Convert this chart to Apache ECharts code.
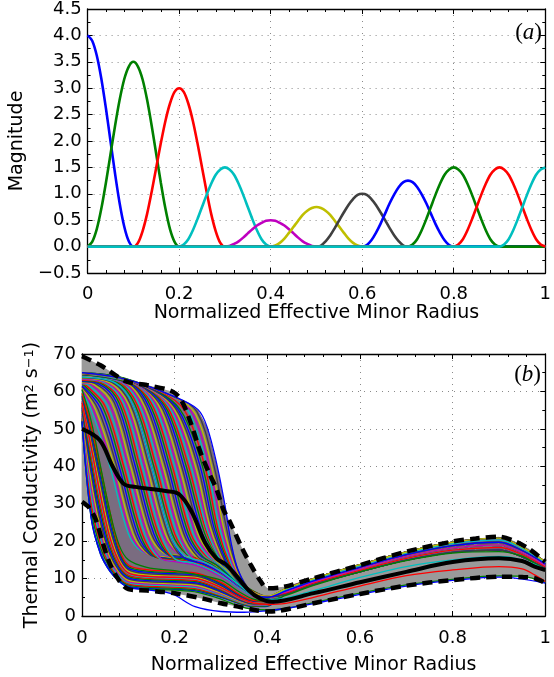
<!DOCTYPE html>
<html><head><meta charset="utf-8">
<script src="https://cdn.jsdelivr.net/npm/echarts/dist/echarts.min.js"></script>
<style>html,body{margin:0;padding:0;background:#fff}#c{width:554px;height:677px}</style>
</head><body><div id="c"></div>
<script>
// ===== Panel (a): basis bumps =====
const centers = [0, 0.1, 0.2, 0.3, 0.4, 0.5, 0.6, 0.7, 0.8, 0.9, 1.0];
const offsets = [-0.1, -0.09, -0.08, -0.07, -0.06, -0.05, -0.04, -0.03, -0.02, -0.01, 0, 0.01, 0.02, 0.03, 0.04, 0.05, 0.06, 0.07, 0.08, 0.09, 0.1];
const bump0  = [0, 0.10, 0.38, 0.82, 1.38, 2.00, 2.62, 3.18, 3.62, 3.90, 4.00, 3.90, 3.62, 3.18, 2.62, 2.00, 1.38, 0.82, 0.38, 0.10, 0];
const bump1  = [0, 0.09, 0.33, 0.72, 1.21, 1.75, 2.29, 2.78, 3.17, 3.41, 3.50, 3.41, 3.17, 2.78, 2.29, 1.75, 1.21, 0.72, 0.33, 0.09, 0];
const bump2  = [0, 0.07, 0.29, 0.62, 1.04, 1.50, 1.96, 2.38, 2.71, 2.93, 3.00, 2.93, 2.71, 2.38, 1.96, 1.50, 1.04, 0.62, 0.29, 0.07, 0];
const bump3  = [0, 0.04, 0.14, 0.31, 0.52, 0.75, 0.98, 1.19, 1.36, 1.46, 1.50, 1.46, 1.36, 1.19, 0.98, 0.75, 0.52, 0.31, 0.14, 0.04, 0];
const bump4  = [0, 0.01, 0.05, 0.10, 0.17, 0.25, 0.33, 0.40, 0.45, 0.49, 0.50, 0.49, 0.45, 0.40, 0.33, 0.25, 0.17, 0.10, 0.05, 0.01, 0];
const bump5  = [0, 0.02, 0.07, 0.15, 0.26, 0.375, 0.49, 0.60, 0.68, 0.73, 0.75, 0.73, 0.68, 0.60, 0.49, 0.375, 0.26, 0.15, 0.07, 0.02, 0];
const bump6  = [0, 0.02, 0.10, 0.21, 0.35, 0.50, 0.65, 0.79, 0.90, 0.98, 1.00, 0.98, 0.90, 0.79, 0.65, 0.50, 0.35, 0.21, 0.10, 0.02, 0];
const bump7  = [0, 0.03, 0.12, 0.26, 0.43, 0.625, 0.82, 0.99, 1.13, 1.22, 1.25, 1.22, 1.13, 0.99, 0.82, 0.625, 0.43, 0.26, 0.12, 0.03, 0];
const bump8  = [0, 0.04, 0.14, 0.31, 0.52, 0.75, 0.98, 1.19, 1.36, 1.46, 1.50, 1.46, 1.36, 1.19, 0.98, 0.75, 0.52, 0.31, 0.14, 0.04, 0];
const bump9  = [0, 0.04, 0.14, 0.31, 0.52, 0.75, 0.98, 1.19, 1.36, 1.46, 1.50, 1.46, 1.36, 1.19, 0.98, 0.75, 0.52, 0.31, 0.14, 0.04, 0];
const bump10 = [0, 0.04, 0.14, 0.31, 0.52, 0.75, 0.98, 1.19, 1.36, 1.46, 1.50, 1.46, 1.36, 1.19, 0.98, 0.75, 0.52, 0.31, 0.14, 0.04, 0];
const bumps = [bump0, bump1, bump2, bump3, bump4, bump5, bump6, bump7, bump8, bump9, bump10];
const palette = ['#0000ff', '#008000', '#ff0000', '#00bfbf', '#bf00bf', '#bfbf00', '#404040'];

// ===== Panel (b): thermal conductivity ensemble =====
const upperBound = [[0,69.4],[0.04,67],[0.095,62.7],[0.14,61.7],[0.195,60],[0.215,57.5],[0.235,51.5],[0.255,44],[0.275,38],[0.29,34],[0.305,28.5],[0.32,25],[0.344,18.5],[0.365,13.5],[0.386,9.2],[0.4,7.4],[0.436,7.8],[0.5,10.1],[0.6,13.6],[0.7,17.2],[0.8,19.9],[0.85,20.7],[0.9,21.2],[0.93,20.2],[0.963,18.1],[1,14.5]];
const lowerBound = [[0,30.5],[0.015,29],[0.03,25.7],[0.045,19.5],[0.06,14],[0.08,9.5],[0.1,7.2],[0.14,6.8],[0.166,6.5],[0.2,6.1],[0.266,4.5],[0.3,3.4],[0.337,2.5],[0.372,1.6],[0.4,1.2],[0.42,1.3],[0.5,3.4],[0.6,5.9],[0.7,8.1],[0.8,9.6],[0.9,10.5],[0.95,10.4],[0.977,10.1],[1,8.8]];
const meanCurve = [[0,50],[0.038,47],[0.066,40],[0.09,35.3],[0.115,34.5],[0.18,33.4],[0.209,32.6],[0.237,27.8],[0.266,19.5],[0.29,15.4],[0.31,13.8],[0.333,10.8],[0.36,6.8],[0.385,4.6],[0.41,3.8],[0.5,6.1],[0.6,9.0],[0.7,11.8],[0.8,14.4],[0.9,15.4],[0.95,14.7],[0.977,13.2],[1,12.3]];
const bandTop = [[0,65],[0.05,64.5],[0.1,63],[0.15,61],[0.2,58.6],[0.25,55.2],[0.27,50.5],[0.292,40],[0.308,30],[0.322,19.5],[0.337,12.3],[0.365,6.2],[0.4,5.2],[0.44,7.3],[0.5,10.0],[0.6,13.7],[0.7,17.1],[0.8,19.7],[0.9,20.8],[0.95,18.4],[1,14.5]];
const bandBottom = [[0,52],[0.02,26.5],[0.04,17],[0.06,12.3],[0.08,9.5],[0.1,8.0],[0.14,7.4],[0.2,7.1],[0.25,6.6],[0.3,5.0],[0.34,3.3],[0.37,2.5],[0.4,2.6],[0.44,5.8],[0.5,8.4],[0.6,11.8],[0.7,14.9],[0.8,17.0],[0.9,17.6],[0.95,15.8],[1,12.7]];

const LX = [0, 0.02, 0.04, 0.06, 0.08, 0.1, 0.14, 0.2, 0.25, 0.3, 0.34, 0.37, 0.4];
const lowerCurves = [
  [52, 26.5, 17, 12.3, 9.5, 8.0, 7.4, 7.1, 6.6, 5.0, 3.3, 2.5, 2.6],
  [52.5, 28, 18.2, 12.9, 9.9, 8.3, 7.7, 7.4, 6.9, 5.2, 3.4, 2.6, 2.7],
  [53, 30, 19.5, 13.5, 10.3, 8.6, 8.0, 7.7, 7.2, 5.4, 3.6, 2.8, 2.9],
  [53.5, 32, 20.7, 14.2, 10.7, 8.9, 8.3, 8.0, 7.5, 5.6, 3.7, 2.9, 3.0],
  [54, 34, 22, 15.0, 11.2, 9.2, 8.6, 8.3, 7.8, 5.9, 3.9, 3.0, 3.1],
  [54.5, 36, 23.5, 15.8, 11.6, 9.5, 8.9, 8.6, 8.1, 6.1, 4.0, 3.1, 3.2],
  [55, 38, 25, 16.6, 12.1, 9.9, 9.2, 8.9, 8.5, 6.4, 4.2, 3.2, 3.3],
  [55.5, 39.5, 26.5, 17.5, 12.6, 10.2, 9.5, 9.2, 8.8, 6.6, 4.3, 3.3, 3.4],
  [56, 41, 28, 18.5, 13.1, 10.6, 9.8, 9.5, 9.1, 6.9, 4.5, 3.4, 3.5],
  [56.5, 42.5, 29.5, 19.5, 13.6, 10.9, 10.1, 9.8, 9.4, 7.1, 4.6, 3.5, 3.5],
  [57, 44, 31, 20.5, 14.2, 11.3, 10.4, 10.1, 9.7, 7.4, 4.8, 3.6, 3.6],
  [57.5, 45.2, 32.5, 21.5, 14.7, 11.6, 10.7, 10.4, 10.0, 7.6, 4.9, 3.7, 3.7],
  [58, 46.5, 34, 22.5, 15.3, 12.0, 11.0, 10.7, 10.3, 7.9, 5.1, 3.8, 3.8],
  [58.4, 47.5, 35.5, 23.7, 15.9, 12.4, 11.3, 11.0, 10.6, 8.1, 5.2, 3.9, 3.8],
  [58.8, 48.5, 37, 25, 16.6, 12.8, 11.7, 11.3, 10.9, 8.4, 5.4, 4.0, 3.9],
  [59.2, 49.5, 38.2, 26.5, 17.3, 13.2, 12.0, 11.6, 11.1, 8.7, 5.6, 4.1, 4.0],
  [59.6, 50.5, 39.5, 28, 18, 13.6, 12.4, 11.9, 11.4, 9.0, 5.8, 4.2, 4.0]
];

const middleCurves = [
  [[0,60],[0.02,55],[0.06,40],[0.1,22],[0.13,17.2],[0.18,16.0],[0.22,15.2],[0.26,13.8],[0.3,11.4],[0.34,8.0],[0.37,5.7],[0.4,4.8]],
  [[0,60.5],[0.025,55],[0.065,40],[0.105,22],[0.135,17.0],[0.18,15.9],[0.22,15.1],[0.26,13.7],[0.3,11.3],[0.34,7.9],[0.37,5.6],[0.4,4.7]],
  [[0,61],[0.03,55],[0.07,40],[0.11,22],[0.14,16.8],[0.18,15.7],[0.22,15.0],[0.26,13.6],[0.3,11.2],[0.34,7.9],[0.37,5.6],[0.4,4.7]],
  [[0,61.2],[0.035,55.2],[0.075,40],[0.115,22],[0.145,16.5],[0.18,15.5],[0.22,14.8],[0.26,13.4],[0.3,11.1],[0.34,7.8],[0.37,5.5],[0.4,4.6]],
  [[0,61.5],[0.04,55.5],[0.08,40],[0.12,22],[0.15,16.3],[0.18,15.4],[0.22,14.6],[0.26,13.3],[0.3,11.0],[0.34,7.7],[0.37,5.5],[0.4,4.6]],
  [[0,61.8],[0.005,61.6],[0.045,55.8],[0.085,40],[0.125,22],[0.155,16.0],[0.2,15.0],[0.24,14.0],[0.28,12.1],[0.32,9.4],[0.35,6.7],[0.38,5.0],[0.4,4.6]],
  [[0,62],[0.01,61.5],[0.05,56],[0.09,40],[0.13,22],[0.16,15.8],[0.2,14.8],[0.24,13.9],[0.28,12.0],[0.32,9.3],[0.35,6.6],[0.38,5.0],[0.4,4.6]],
  [[0,62.1],[0.015,61.6],[0.055,56.2],[0.095,40],[0.135,22],[0.165,15.6],[0.2,14.6],[0.24,13.8],[0.28,11.9],[0.32,9.2],[0.35,6.5],[0.38,4.9],[0.4,4.5]],
  [[0,62.3],[0.02,61.8],[0.06,56.5],[0.1,40],[0.14,22],[0.17,15.4],[0.2,14.5],[0.24,13.7],[0.28,11.8],[0.32,9.1],[0.35,6.5],[0.38,4.9],[0.4,4.5]],
  [[0,62.4],[0.025,61.9],[0.065,56.8],[0.105,40],[0.145,22],[0.175,17.0],[0.22,16.0],[0.26,14.6],[0.3,12.1],[0.34,8.3],[0.37,5.9],[0.4,4.8]],
  [[0,62.6],[0.03,62],[0.07,57],[0.11,40],[0.15,22],[0.18,16.8],[0.22,15.8],[0.26,14.4],[0.3,12.0],[0.34,8.2],[0.37,5.8],[0.4,4.8]],
  [[0,62.7],[0.035,62.1],[0.075,57],[0.115,40],[0.155,22],[0.185,16.4],[0.22,15.5],[0.26,14.1],[0.3,11.8],[0.34,8.0],[0.37,5.7],[0.4,4.7]],
  [[0,62.9],[0.04,62.2],[0.08,57],[0.12,40],[0.16,22],[0.19,16.0],[0.22,15.2],[0.26,13.9],[0.3,11.6],[0.34,7.9],[0.37,5.6],[0.4,4.7]],
  [[0,63.0],[0.045,62.2],[0.085,56.9],[0.125,40],[0.165,22],[0.195,15.6],[0.24,14.4],[0.28,12.4],[0.32,9.4],[0.35,6.7],[0.38,5.1],[0.4,4.6]],
  [[0,63.2],[0.05,62.2],[0.09,56.8],[0.13,40],[0.17,22],[0.2,15.3],[0.24,14.2],[0.28,12.2],[0.32,9.3],[0.35,6.6],[0.38,5.0],[0.4,4.6]],
  [[0,63.3],[0.055,62.3],[0.095,56.7],[0.135,40],[0.175,22],[0.205,16.9],[0.24,15.7],[0.28,13.2],[0.32,9.9],[0.35,7.0],[0.38,5.3],[0.4,4.7]],
  [[0,63.5],[0.06,62.3],[0.1,56.6],[0.14,40],[0.18,22],[0.21,16.6],[0.24,15.4],[0.28,13.0],[0.32,9.8],[0.35,6.9],[0.38,5.2],[0.4,4.7]],
  [[0,63.6],[0.065,62.4],[0.105,56.5],[0.145,40],[0.185,22],[0.215,15.9],[0.26,14.2],[0.3,11.7],[0.34,7.9],[0.37,5.7],[0.4,4.7]],
  [[0,63.8],[0.07,62.4],[0.11,56.4],[0.15,40],[0.19,22],[0.22,15.6],[0.26,14.0],[0.3,11.5],[0.34,7.8],[0.37,5.6],[0.4,4.7]],
  [[0,63.9],[0.075,62.5],[0.115,56.3],[0.155,40],[0.195,22],[0.225,16.6],[0.26,15.0],[0.3,12.4],[0.34,8.3],[0.37,5.9],[0.4,4.8]],
  [[0,64],[0.08,62.5],[0.12,56.2],[0.16,40],[0.2,22],[0.23,16.4],[0.26,14.8],[0.3,12.2],[0.34,8.2],[0.37,5.8],[0.4,4.8]],
  [[0,64.1],[0.085,62.4],[0.125,56.1],[0.165,40],[0.205,22],[0.235,15.6],[0.27,14.2],[0.3,12.0],[0.34,8.1],[0.37,5.8],[0.4,4.7]],
  [[0,64.2],[0.09,62.3],[0.13,56],[0.17,40],[0.21,22],[0.24,15.4],[0.27,14.0],[0.3,11.8],[0.34,8.0],[0.37,5.7],[0.4,4.7]],
  [[0,64.3],[0.095,62.3],[0.135,55.9],[0.175,40],[0.215,22],[0.245,16.0],[0.28,14.0],[0.31,11.4],[0.34,8.2],[0.37,5.9],[0.4,4.8]],
  [[0,64.4],[0.1,62.2],[0.14,55.8],[0.18,40],[0.22,22],[0.25,15.8],[0.28,13.8],[0.31,11.2],[0.34,8.1],[0.37,5.8],[0.4,4.8]],
  [[0,64.5],[0.105,62.0],[0.145,55.7],[0.185,40],[0.225,22],[0.255,16.2],[0.29,13.7],[0.32,10.6],[0.35,7.3],[0.38,5.4],[0.4,4.9]],
  [[0,64.5],[0.11,61.9],[0.15,55.6],[0.19,40],[0.23,22],[0.26,16.0],[0.29,13.6],[0.32,10.4],[0.35,7.2],[0.38,5.3],[0.4,4.8]],
  [[0,64.6],[0.06,63.8],[0.115,61.7],[0.155,55.5],[0.195,40],[0.235,22],[0.265,16.4],[0.3,13.5],[0.33,10.0],[0.36,6.8],[0.39,5.2],[0.4,5.0]],
  [[0,64.6],[0.06,63.8],[0.12,61.5],[0.16,55.4],[0.2,40],[0.24,22],[0.27,16.2],[0.3,13.4],[0.33,9.8],[0.36,6.6],[0.39,5.1],[0.4,5.0]],
  [[0,64.7],[0.07,63.8],[0.125,61.3],[0.165,55.3],[0.205,40],[0.245,22],[0.275,16.2],[0.31,12.8],[0.34,9.2],[0.37,6.3],[0.4,5.0]],
  [[0,64.7],[0.07,63.8],[0.13,61.1],[0.17,55.2],[0.21,40],[0.25,22],[0.28,16.0],[0.31,12.6],[0.34,9.0],[0.37,6.2],[0.4,5.0]],
  [[0,64.8],[0.08,63.6],[0.135,60.8],[0.175,55.1],[0.215,40],[0.255,22],[0.285,15.8],[0.32,12.0],[0.35,8.2],[0.38,5.8],[0.4,5.1]],
  [[0,64.8],[0.08,63.6],[0.14,60.6],[0.18,55.0],[0.22,40],[0.26,22],[0.29,15.6],[0.32,11.8],[0.35,8.0],[0.38,5.7],[0.4,5.1]],
  [[0,64.8],[0.08,63.7],[0.145,60.4],[0.185,54.8],[0.225,40],[0.265,22],[0.295,15.3],[0.33,11.0],[0.36,7.4],[0.39,5.5],[0.4,5.2]],
  [[0,64.8],[0.08,63.7],[0.15,60.2],[0.19,54.6],[0.23,40],[0.27,22],[0.3,15.0],[0.33,10.8],[0.36,7.2],[0.39,5.4],[0.4,5.2]],
  [[0,64.9],[0.08,63.8],[0.155,59.9],[0.195,54.4],[0.235,40],[0.27,23],[0.3,14.8],[0.335,9.9],[0.36,7.0],[0.39,5.4],[0.4,5.2]],
  [[0,64.9],[0.08,63.8],[0.16,59.6],[0.2,54.2],[0.24,40],[0.275,23],[0.305,14.5],[0.335,9.6],[0.36,6.8],[0.39,5.3],[0.4,5.2]],
  [[0,64.9],[0.08,63.8],[0.165,59.4],[0.205,54.0],[0.245,40],[0.277,23.5],[0.307,14.4],[0.34,9.0],[0.37,6.1],[0.4,5.2]],
  [[0,64.9],[0.08,63.8],[0.17,59.2],[0.21,53.8],[0.25,40],[0.28,24],[0.31,14.2],[0.34,8.8],[0.37,6.0],[0.4,5.2]],
  [[0,65],[0.085,63.7],[0.175,59.0],[0.215,53.6],[0.255,40],[0.285,23.5],[0.312,14.4],[0.34,9.1],[0.37,6.1],[0.4,5.3]],
  [[0,65],[0.09,63.6],[0.18,58.8],[0.22,53.5],[0.26,40],[0.29,23],[0.315,14.5],[0.34,9.4],[0.37,6.2],[0.4,5.3]],
  [[0,65],[0.1,63],[0.19,58.5],[0.228,53.5],[0.265,40],[0.294,23],[0.318,14.2],[0.343,9.0],[0.37,6.2],[0.4,5.3]],
  [[0,65],[0.1,63],[0.2,58.2],[0.235,53.5],[0.27,40],[0.298,23],[0.322,14],[0.345,8.8],[0.37,6.2],[0.4,5.3]],
  [[0,65],[0.1,63.05],[0.2,58.3],[0.24,53.8],[0.275,40],[0.302,23.5],[0.325,14],[0.348,8.6],[0.372,6.1],[0.4,5.3]],
  [[0,65],[0.1,63.1],[0.2,58.4],[0.245,54],[0.28,40],[0.305,24],[0.328,14],[0.35,8.5],[0.375,6.0],[0.4,5.3]],
  [[0,65],[0.1,63.1],[0.2,58.5],[0.248,54.6],[0.285,40],[0.306,27],[0.325,16.5],[0.343,10.5],[0.37,6.1],[0.4,5.1]],
  [[0,65],[0.1,63.1],[0.2,58.6],[0.25,55.2],[0.27,50.5],[0.292,40],[0.308,30],[0.322,19.5],[0.337,12.3],[0.365,6.2],[0.4,5.0]]
];

const TX = [0.44, 0.5, 0.6, 0.7, 0.8, 0.9, 0.95, 1.0];
const tail1 = [5.8, 8.4, 11.8, 14.9, 17.0, 17.6, 15.8, 12.7];
const tail2 = [6.1, 8.8, 12.2, 15.4, 17.6, 18.3, 16.4, 13.1];
const tail3 = [6.4, 9.1, 12.6, 15.9, 18.2, 19.0, 17.0, 13.5];
const tail4 = [6.7, 9.4, 13.0, 16.4, 18.8, 19.7, 17.5, 13.9];
const tail5 = [7.0, 9.7, 13.4, 16.8, 19.3, 20.3, 18.0, 14.2];
const tail6 = [7.3, 10.0, 13.7, 17.1, 19.7, 20.8, 18.4, 14.5];
const tails = [tail1, tail4, tail2, tail5, tail3, tail6];

const greenMid = [[0,60.5],[0.02,52],[0.04,40],[0.06,28],[0.08,19],[0.1,15],[0.14,13],[0.2,12.1],[0.25,11.0],[0.3,9.6],[0.34,6.4],[0.37,4.5],[0.4,4.0],[0.44,5.5],[0.5,8.2],[0.6,11.8],[0.7,14.8],[0.8,16.8],[0.9,17.2],[0.95,16.0],[0.977,14.1],[1,12.3]];
const greenLow = [[0,52],[0.02,26],[0.04,16.5],[0.06,12],[0.08,9.3],[0.1,7.8],[0.14,7.2],[0.2,6.9],[0.25,6.3],[0.3,4.5],[0.34,2.6],[0.37,1.8],[0.4,1.6],[0.44,2.0],[0.5,3.6],[0.6,6.1],[0.7,8.3],[0.8,9.8],[0.9,10.7],[0.95,10.6],[1,9.0]];
const blueLow = [[0,52],[0.02,26],[0.04,16.5],[0.06,12],[0.08,9.3],[0.1,7.7],[0.14,7.0],[0.18,6.4],[0.2,5.6],[0.244,2.5],[0.3,1.2],[0.35,1.0],[0.4,1.4],[0.45,2.2],[0.5,3.3],[0.6,5.8],[0.7,8.0],[0.8,9.5],[0.9,10.4],[1,8.8]];
const redLine = [[0,57],[0.02,45],[0.04,32],[0.06,21],[0.08,14.5],[0.1,11.5],[0.14,10.6],[0.2,10.3],[0.25,9.9],[0.3,7.6],[0.34,4.9],[0.37,3.5],[0.4,3.1],[0.44,3.4],[0.5,5.0],[0.6,8.0],[0.7,10.8],[0.8,12.3],[0.9,13.2],[0.95,12.6],[0.977,11.0],[1,9.2]];
const cyanLine = [[0,63.8],[0.07,62.4],[0.11,56.4],[0.15,40],[0.19,22],[0.22,16.2],[0.26,14.6],[0.3,12],[0.34,8.2],[0.37,5.4],[0.4,4.4],[0.44,4.8],[0.5,6.8],[0.6,10.3],[0.7,13.2],[0.8,15.0],[0.9,15.9],[0.95,15.0],[1,12.5]];

// ===== build =====
const FONT = 'DejaVu Sans';
const series = [];

bumps.forEach((vals, i) => {
  const c = centers[i];
  const pts = [];
  if (c - 0.1 > 1e-9) pts.push([0, 0]);
  offsets.forEach((o, j) => {
    const x = Math.round((c + o) * 1000) / 1000;
    if (x >= 0 && x <= 1) pts.push([x, vals[j]]);
  });
  if (c + 0.1 < 1 - 1e-9) pts.push([1, 0]);
  series.push({type: 'line', xAxisIndex: 0, yAxisIndex: 0, data: pts, symbol: 'none',
    smooth: 0.3, lineStyle: {color: palette[i % 7], width: 2.6}, z: 3, silent: true});
});

function polygon(top, bottom, color) {
  return {type: 'custom', xAxisIndex: 2, yAxisIndex: 2, z: 1, silent: true, clip: true,
    data: [[0.5, 10]],
    renderItem: (params, api) => {
      const pts = top.concat(bottom.slice().reverse()).map(p => api.coord(p));
      return {type: 'polygon', shape: {points: pts}, style: {fill: color}};
    }};
}
series.push(polygon(upperBound, lowerBound, '#9a9a9a'));
series.push(polygon(bandTop, bandBottom, '#7a6c80'));

const ensemble = [];
lowerCurves.forEach((ys, i) => {
  ensemble.push(LX.map((x, j) => [x, ys[j]]).concat(TX.map((x, j) => [x, tails[i % 6][j]])));
});
middleCurves.forEach((pts, i) => {
  ensemble.push(pts.concat(TX.map((x, j) => [x, tails[(i + 3) % 6][j]])));
});
ensemble.forEach((pts, k) => {
  series.push({type: 'line', xAxisIndex: 2, yAxisIndex: 2, data: pts, symbol: 'none', smooth: 0.35,
    lineStyle: {color: palette[k % 7], width: 1.3}, z: 2, silent: true});
});
[[greenLow, '#008000'], [blueLow, '#0000ff'], [greenMid, '#008000'], [redLine, '#ff0000'], [cyanLine, '#00bfbf']].forEach(([pts, col]) => {
  series.push({type: 'line', xAxisIndex: 2, yAxisIndex: 2, data: pts, symbol: 'none', smooth: 0.35,
    lineStyle: {color: col, width: 1.3}, z: 2, silent: true});
});
[upperBound, lowerBound].forEach(pts => {
  series.push({type: 'line', xAxisIndex: 2, yAxisIndex: 2, data: pts, symbol: 'none', smooth: 0.3,
    lineStyle: {color: '#000', width: 4.5, type: [10, 6], cap: 'butt'}, z: 4, silent: true});
});
series.push({type: 'line', xAxisIndex: 2, yAxisIndex: 2, data: meanCurve, symbol: 'none', smooth: 0.35,
  lineStyle: {color: '#000', width: 4}, z: 5, silent: true});

function xFmt(v) { return (Math.abs(v) < 1e-9) ? '0' : (Math.abs(v - 1) < 1e-9 ? '1' : v.toFixed(1)); }
const axLine = {show: true, onZero: false, lineStyle: {color: '#000', width: 1.3}};
const dotted = {show: true, lineStyle: {color: '#8a8a8a', width: 1, type: [1, 5]}};

function xAxisDef(grid, main, name, nameGap, margin) {
  return {type: 'value', gridIndex: grid, min: 0, max: 1, interval: 0.2, position: main ? 'bottom' : 'top',
    axisLine: axLine, axisTick: {show: true, inside: true, length: 5, lineStyle: {color: '#000', width: 1}},
    minorTick: {show: true, splitNumber: 5, length: 3, lineStyle: {color: '#000', width: 1}},
    splitLine: main ? dotted : {show: false},
    axisLabel: {show: main, formatter: xFmt, fontFamily: FONT, fontSize: 18, color: '#000', margin: margin},
    name: main ? name : '', nameLocation: 'middle', nameGap: nameGap,
    nameTextStyle: {fontFamily: FONT, fontSize: 19, color: '#000'}};
}
function yAxisDef(grid, main, min, max, interval, minorSplit, fmt, name, nameGap, rich) {
  return {type: 'value', gridIndex: grid, min: min, max: max, interval: interval, position: main ? 'left' : 'right',
    axisLine: axLine, axisTick: {show: true, inside: true, length: 5, lineStyle: {color: '#000', width: 1}},
    minorTick: {show: true, splitNumber: minorSplit, length: 3, lineStyle: {color: '#000', width: 1}},
    splitLine: main ? dotted : {show: false},
    axisLabel: {show: main, formatter: fmt, fontFamily: FONT, fontSize: 18, color: '#000', margin: 6},
    name: main ? name : '', nameLocation: 'middle', nameGap: nameGap,
    nameTextStyle: {fontFamily: FONT, fontSize: 19, color: '#000', rich: rich}};
}
const xName = 'Normalized Effective Minor Radius';
const supRich = {sup: {fontFamily: FONT, fontSize: 13, color: '#000', verticalAlign: 'top', lineHeight: 13}};
const panelRich = {
  p: {fontFamily: 'Liberation Serif', fontSize: 23, fontWeight: 'normal', color: '#000'},
  i: {fontFamily: 'Liberation Serif', fontStyle: 'italic', fontWeight: 'normal', fontSize: 23, color: '#000'}
};

const chart = echarts.init(document.getElementById('c'), null, {renderer: 'canvas'});
chart.setOption({
  animation: false,
  backgroundColor: '#fff',
  title: [
    {text: '{p|(}{i|a}{p|)}', right: 7, top: 16, textStyle: {fontWeight: 'normal', rich: panelRich}},
    {text: '{p|(}{i|b}{p|)}', right: 8, top: 358, textStyle: {fontWeight: 'normal', rich: panelRich}}
  ],
  grid: [
    {left: 87, right: 4, top: 8, height: 265, containLabel: false},
    {left: 82, right: 3, top: 354, height: 262, containLabel: false}
  ],
  xAxis: [
    xAxisDef(0, true, xName, 29, 12),
    xAxisDef(0, false, '', 0, 0),
    xAxisDef(1, true, xName, 40, 13),
    xAxisDef(1, false, '', 0, 0)
  ],
  yAxis: [
    yAxisDef(0, true, -0.5, 4.5, 0.5, 2, v => (v < 0 ? '\u2212' : '') + Math.abs(v).toFixed(1), 'Magnitude', 58),
    yAxisDef(0, false, -0.5, 4.5, 0.5, 2, null, '', 0),
    yAxisDef(1, true, 0, 70, 10, 2, v => String(v), 'Thermal Conductivity (m{sup|2} s{sup|\u22121})', 40, supRich),
    yAxisDef(1, false, 0, 70, 10, 2, null, '', 0)
  ],
  series: series
});
</script>
</body></html>
